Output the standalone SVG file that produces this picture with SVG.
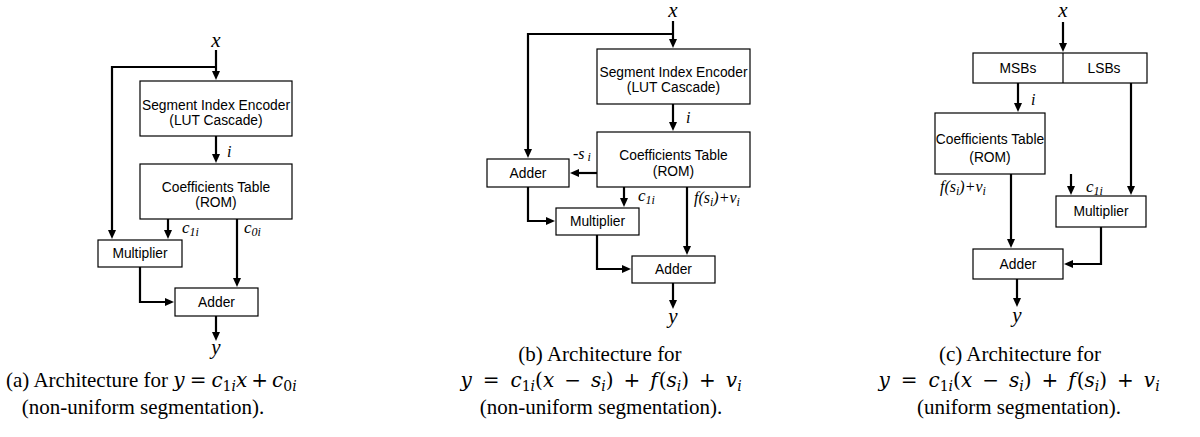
<svg xmlns="http://www.w3.org/2000/svg" width="1200" height="437" viewBox="0 0 1200 437">
<defs>
<marker id="arr" markerWidth="9" markerHeight="8" refX="5" refY="4" orient="auto" markerUnits="userSpaceOnUse">
<path d="M0,0 L9,4 L0,8 z" fill="#000"/>
</marker>
</defs>
<style>
.box{fill:#fff;stroke:#000;stroke-width:1.2}
.w{fill:none;stroke:#000;stroke-width:2.2;marker-end:url(#arr)}
.t{font-family:"Liberation Sans",Arial,sans-serif;font-size:13.8px;text-anchor:middle;fill:#000}
.v{font-family:"Liberation Serif","Times New Roman",serif;font-style:italic;fill:#000;font-size:16px}
.io{font-size:21px;text-anchor:middle}
.sb{font-size:12px}
.cap{font-family:"Liberation Serif","Times New Roman",serif;font-size:21px;fill:#000;text-anchor:middle}
.capl{font-family:"Liberation Serif","Times New Roman",serif;font-size:21px;fill:#000;text-anchor:start}
.mt{font-family:"DejaVu Serif",serif;font-size:20px}
.m{font-style:italic}
.ms{font-size:14px}
</style>

<!-- (a) linear approximation, non-uniform segments -->
<g id="a-in"><text class="v io" x="216" y="47">x</text></g>
<g id="a-seg"><rect class="box" x="140" y="81" width="152" height="55"/>
<text class="t" x="216" y="110">Segment Index Encoder</text><text class="t" x="216" y="125">(LUT Cascade)</text></g>
<g id="a-coef"><rect class="box" x="140" y="164" width="152" height="55"/>
<text class="t" x="216" y="192">Coefficients Table</text><text class="t" x="216" y="207">(ROM)</text></g>
<g id="a-mul"><rect class="box" x="98" y="240" width="84" height="27"/><text class="t" x="140" y="258">Multiplier</text></g>
<g id="a-add"><rect class="box" x="175" y="288" width="83" height="28"/><text class="t" x="216.5" y="307">Adder</text></g>
<g id="a-out"><text class="v io" x="216" y="354">y</text></g>
<g id="a-conn">
<path class="w" d="M216,50 V76"/>
<path class="w" d="M216,67 H112 V235"/>
<path class="w" d="M216,136 V159"/>
<path class="w" d="M168,219 V235"/>
<path class="w" d="M237,219 V283"/>
<path class="w" d="M140,267 V302 H170"/>
<path class="w" d="M216,316 V337"/>
<text class="v" x="227" y="157">i</text>
<text class="v" x="182" y="233"><tspan font-size="17">c</tspan><tspan class="sb" dy="3">1i</tspan></text>
<text class="v" x="244" y="233"><tspan font-size="17">c</tspan><tspan class="sb" dy="3">0i</tspan></text>
</g>

<!-- (b) offset form, non-uniform segments -->
<g id="b-in"><text class="v io" x="673" y="17">x</text></g>
<g id="b-seg"><rect class="box" x="597" y="49" width="153" height="55"/>
<text class="t" x="673.5" y="77">Segment Index Encoder</text><text class="t" x="673.5" y="92">(LUT Cascade)</text></g>
<g id="b-coef"><rect class="box" x="597" y="132" width="153" height="55"/>
<text class="t" x="673.5" y="160">Coefficients Table</text><text class="t" x="673.5" y="176">(ROM)</text></g>
<g id="b-add1"><rect class="box" x="487" y="159" width="82" height="28"/><text class="t" x="528" y="178">Adder</text></g>
<g id="b-mul"><rect class="box" x="556" y="208" width="83" height="27"/><text class="t" x="597.5" y="226">Multiplier</text></g>
<g id="b-add2"><rect class="box" x="632" y="256" width="83" height="27"/><text class="t" x="673.5" y="274">Adder</text></g>
<g id="b-out"><text class="v io" x="673" y="323">y</text></g>
<g id="b-conn">
<path class="w" d="M673,21 V44"/>
<path class="w" d="M673,34 H528 V154"/>
<path class="w" d="M673,104 V127"/>
<path class="w" d="M597,173 H574"/>
<path class="w" d="M528,187 V221 H551"/>
<path class="w" d="M624,187 V203"/>
<path class="w" d="M687,187 V251"/>
<path class="w" d="M597,235 V269 H627"/>
<path class="w" d="M673,283 V305"/>
<text class="v" x="686" y="123">i</text>
<text class="v" x="573" y="159">-s<tspan class="sb" dx="3" dy="2">i</tspan></text>
<text class="v" x="638" y="201"><tspan font-size="17">c</tspan><tspan class="sb" dy="3">1i</tspan></text>
<text class="v" x="694" y="203">f(s<tspan class="sb" dy="3">i</tspan><tspan dy="-3">)+v</tspan><tspan class="sb" dy="3">i</tspan></text>
</g>

<!-- (c) offset form, uniform segments -->
<g id="c-in"><text class="v io" x="1063" y="17">x</text></g>
<g id="c-split"><rect class="box" x="973" y="53" width="174" height="30"/>
<line x1="1063" y1="53" x2="1063" y2="83" stroke="#000" stroke-width="1.2"/>
<text class="t" x="1018" y="73">MSBs</text><text class="t" x="1104" y="73">LSBs</text></g>
<g id="c-coef"><rect class="box" x="935" y="113" width="110" height="61"/>
<text class="t" x="990" y="144">Coefficients Table</text><text class="t" x="990" y="162">(ROM)</text></g>
<g id="c-mul"><rect class="box" x="1056" y="196" width="90" height="31"/><text class="t" x="1101" y="216">Multiplier</text></g>
<g id="c-add"><rect class="box" x="973" y="249" width="90" height="30"/><text class="t" x="1018" y="269">Adder</text></g>
<g id="c-out"><text class="v io" x="1017" y="322">y</text></g>
<g id="c-conn">
<path class="w" d="M1063,22 V48"/>
<path class="w" d="M1018,83 V108"/>
<path class="w" d="M1131,83 V191"/>
<path class="w" d="M1071,174 V191"/>
<path class="w" d="M1011,174 V244"/>
<path class="w" d="M1101,227 V264 H1068"/>
<path class="w" d="M1017,279 V303"/>
<text class="v" x="1031" y="105">i</text>
<text class="v" x="940" y="192">f(s<tspan class="sb" dy="3">i</tspan><tspan dy="-3">)+v</tspan><tspan class="sb" dy="3">i</tspan></text>
<text class="v" x="1086" y="192"><tspan font-size="17">c</tspan><tspan class="sb" dy="3">1i</tspan></text>
</g>

<!-- captions -->
<g id="captions">
<text class="capl" x="6" y="387">(a) Architecture for <tspan class="mt m">y</tspan><tspan class="mt" dx="5">=</tspan><tspan class="mt m" dx="5">c</tspan><tspan class="mt ms" dy="4">1</tspan><tspan class="mt ms m">i</tspan><tspan class="mt m" dy="-4">x</tspan><tspan class="mt" dx="4">+</tspan><tspan class="mt m" dx="4">c</tspan><tspan class="mt ms" dy="4">0</tspan><tspan class="mt ms m">i</tspan></text>
<text class="cap" x="143" y="414">(non-uniform segmentation).</text>

<text class="cap" x="600" y="361">(b) Architecture for</text>
<text class="cap" x="601" y="387"><tspan class="mt m">y</tspan><tspan class="mt" dx="11">=</tspan><tspan class="mt m" dx="11">c</tspan><tspan class="mt ms" dy="4">1</tspan><tspan class="mt ms m">i</tspan><tspan class="mt" dy="-4">(</tspan><tspan class="mt m">x</tspan><tspan class="mt" dx="10">−</tspan><tspan class="mt m" dx="10">s</tspan><tspan class="mt ms m" dy="4">i</tspan><tspan class="mt" dy="-4">)</tspan><tspan class="mt" dx="10">+</tspan><tspan class="mt m" dx="10">f</tspan><tspan class="mt" dx="1">(</tspan><tspan class="mt m">s</tspan><tspan class="mt ms m" dy="4">i</tspan><tspan class="mt" dy="-4">)</tspan><tspan class="mt" dx="10">+</tspan><tspan class="mt m" dx="10">v</tspan><tspan class="mt ms m" dy="4">i</tspan></text>
<text class="cap" x="601" y="414">(non-uniform segmentation).</text>

<text class="cap" x="1020" y="361">(c) Architecture for</text>
<text class="cap" x="1019" y="387"><tspan class="mt m">y</tspan><tspan class="mt" dx="11">=</tspan><tspan class="mt m" dx="11">c</tspan><tspan class="mt ms" dy="4">1</tspan><tspan class="mt ms m">i</tspan><tspan class="mt" dy="-4">(</tspan><tspan class="mt m">x</tspan><tspan class="mt" dx="10">−</tspan><tspan class="mt m" dx="10">s</tspan><tspan class="mt ms m" dy="4">i</tspan><tspan class="mt" dy="-4">)</tspan><tspan class="mt" dx="10">+</tspan><tspan class="mt m" dx="10">f</tspan><tspan class="mt" dx="1">(</tspan><tspan class="mt m">s</tspan><tspan class="mt ms m" dy="4">i</tspan><tspan class="mt" dy="-4">)</tspan><tspan class="mt" dx="10">+</tspan><tspan class="mt m" dx="10">v</tspan><tspan class="mt ms m" dy="4">i</tspan></text>
<text class="cap" x="1019" y="414">(uniform segmentation).</text>
</g>
</svg>
